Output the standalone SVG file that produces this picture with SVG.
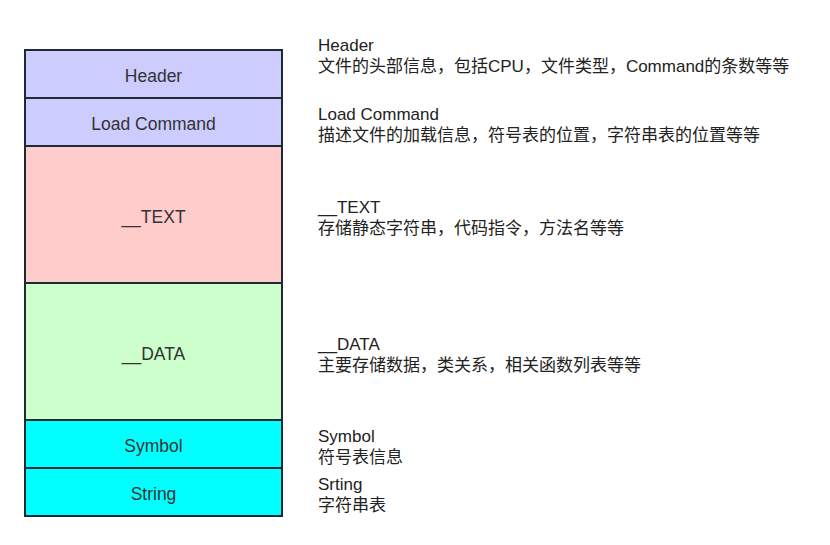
<svg xmlns="http://www.w3.org/2000/svg" width="830" height="545" viewBox="0 0 830 545">
<style>
.box{stroke:#1e2a33;stroke-width:2}
.lbl{font-family:"Liberation Sans","Noto Sans CJK SC",Arial,sans-serif;font-size:17.5px;fill:#333;text-anchor:middle;dominant-baseline:central}
.desc{font-family:"Liberation Sans","Noto Sans CJK SC",Arial,sans-serif;font-size:17px;fill:#222}
</style>
<rect width="830" height="545" fill="#fff"/>
<g id="header"><rect class="box" x="25" y="50" width="257" height="48" fill="#ccccff"/><text class="lbl" x="153.5" y="76">Header</text></g>
<g id="loadcommand"><rect class="box" x="25" y="98" width="257" height="48" fill="#ccccff"/><text class="lbl" x="153.5" y="124">Load Command</text></g>
<g id="text"><rect class="box" x="25" y="146" width="257" height="137" fill="#ffcccc"/><text class="lbl" x="153.5" y="217">__TEXT</text></g>
<g id="data"><rect class="box" x="25" y="283" width="257" height="137" fill="#ccffcc"/><text class="lbl" x="153.5" y="354">__DATA</text></g>
<g id="symbol"><rect class="box" x="25" y="420" width="257" height="48" fill="#00ffff"/><text class="lbl" x="153.5" y="446">Symbol</text></g>
<g id="string"><rect class="box" x="25" y="468" width="257" height="48" fill="#00ffff"/><text class="lbl" x="153.5" y="494">String</text></g>
<g id="descriptions">
<text class="desc" x="318" y="51">Header</text>
<text class="desc" x="318" y="72">文件的头部信息，包括CPU，文件类型，Command的条数等等</text>
<text class="desc" x="318" y="120">Load Command</text>
<text class="desc" x="318" y="141">描述文件的加载信息，符号表的位置，字符串表的位置等等</text>
<text class="desc" x="318" y="213">__TEXT</text>
<text class="desc" x="318" y="234">存储静态字符串，代码指令，方法名等等</text>
<text class="desc" x="318" y="350">__DATA</text>
<text class="desc" x="318" y="371">主要存储数据，类关系，相关函数列表等等</text>
<text class="desc" x="318" y="442">Symbol</text>
<text class="desc" x="318" y="463">符号表信息</text>
<text class="desc" x="318" y="490">Srting</text>
<text class="desc" x="318" y="511">字符串表</text>
</g>
<g id="connectors"/>
</svg>
